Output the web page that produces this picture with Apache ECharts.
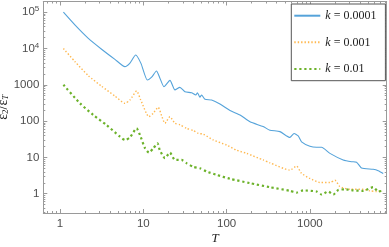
<!DOCTYPE html>
<html><head><meta charset="utf-8">
<script src="https://cdn.jsdelivr.net/npm/echarts@6/dist/echarts.min.js"></script>
<style>html,body{margin:0;padding:0;background:#fff}#c{width:389px;height:247px}</style>
</head><body><div id="c"></div>
<script>
// ---- data ----
const seriesNames = ['k = 0.0001', 'k = 0.001', 'k = 0.01'];

const tBlue = [1.1,1.51,2.19,3.16,4.57,6.03,6.92,8.11,9.38,11.2,12.6,14.4,15.8,17.7,20.9,24.0,27.5,31.6,38.0,42.7,44.7,47.9,50.1,55.0,66.1,83.2,110,145,191,275,331,437,575,646,724,794,1000,1200,1380,1740,2510,3160,3630,4170,5750,6610,7590];
const vBlue = [100000,44700,19000,9550,5010,3160,3980,6600,3890,1350,1620,2400,1550,890,1320,724,851,646,603,525,603,457,525,398,380,295,195,148,95.5,70.8,56.2,51.3,35.5,45.7,38.9,26.9,20.4,19.1,19.1,12.9,8.5,7.6,7.4,5.1,4.7,4.3,3.6];

const tOrange = [1.1,1.51,2.19,3.16,4.57,6.03,6.92,8.32,9.33,11.7,13.2,15.1,16.6,18.2,20.9,24.0,27.5,33.1,39.8,45.7,52.5,69.2,100,132,174,275,331,575,692,794,1000,1320,1740,2000,2290,3020,4370,5250,6310,7410];
const vOrange = [10000,4370,1780,912,490,309,380,676,380,132,166,240,141,87,132,87,79.4,63.1,55,45.7,43.7,30.2,21.9,15.8,12.9,8.5,7.1,4.47,5.75,3.63,2.63,2.04,2.04,2.34,1.58,1.32,1.32,1.20,1.15,1.17];

const tGreen = [1.1,1.74,2.51,3.63,5.25,6.03,6.92,8.32,9.12,10.5,11.7,13.2,14.8,15.8,18.2,20.9,24.0,28.8,33.1,39.8,47.9,57.5,75.9,110,191,331,575,692,832,1200,1380,1660,1910,2190,2630,3310,4370,5750,6610,7410];
const vGreen = [1000,309,148,77.6,37.2,30.2,35.5,63.1,41.7,17.8,13.5,17.8,24.5,15.8,9.55,13.5,8.5,8.5,6.9,5.5,5.0,4.07,3.31,2.57,1.95,1.51,1.20,1.07,1.23,1.15,0.95,1.15,0.95,1.26,1.32,1.23,1.20,1.51,1.15,1.20];

const xTickValues = [1, 10, 100, 1000];
const xTickLabels = ['1', '10', '100', '1000'];
const yTickValues = [1, 10, 100, 1000, 10000, 100000];
const yTickLabels = ['1', '10', '100', '1000', '10^4', '10^5'];

// ---- layout / style ----
const X0 = -0.2, X1 = 3.922, Y0 = -0.532, Y1 = 5.295;   // axis range in decades
const frameColor = '#9a9a9a';
const labelColor = '#4d4d4d';
const sansFont = '"Liberation Sans Narrow", "Liberation Sans", sans-serif';
const serifFont = '"Liberation Serif", serif';

function minorTicks(lo, hi) {
  const out = [];
  for (let n = -2; n <= 6; n++) for (let k = 2; k <= 9; k++) {
    const v = n + Math.log10(k);
    if (v > lo && v < hi) out.push(v);
  }
  return out;
}
const xMajor = xTickValues.map(Math.log10);
const yMajor = yTickValues.map(Math.log10);
const xMinor = minorTicks(X0, X1);
const yMinor = minorTicks(Y0, Y1);

function tickAxis(position, lo, hi, ticks, len, line, labelCfg) {
  return {
    type: 'value', position: position, min: lo, max: hi, gridIndex: 0,
    axisLine: { show: line, onZero: false, lineStyle: { color: frameColor, width: 1 } },
    axisTick: { show: true, inside: true, length: len, customValues: ticks, lineStyle: { color: frameColor, width: 1 } },
    axisLabel: labelCfg ? labelCfg : { show: false },
    splitLine: { show: false }, minorTick: { show: false }, axisPointer: { show: false }
  };
}

const xLabelCfg = {
  show: true, customValues: xMajor, margin: 5, color: labelColor, fontFamily: sansFont, fontSize: 11.5,
  formatter: v => xTickLabels[xMajor.findIndex(m => Math.abs(m - v) < 1e-6)]
};
const yLabelCfg = {
  show: true, customValues: yMajor, margin: 4, color: labelColor, fontFamily: sansFont, fontSize: 11.5,
  formatter: v => {
    const s = yTickLabels[yMajor.findIndex(m => Math.abs(m - v) < 1e-6)];
    const p = s.split('^');
    return p.length > 1 ? p[0] + '{sup|' + p[1] + '}' : s;
  },
  rich: { sup: { fontSize: 8, verticalAlign: 'top', color: labelColor, fontFamily: sansFont, padding: [0, 0, 6, 0] } }
};

const xBottom = tickAxis('bottom', X0, X1, xMajor, 4, true, xLabelCfg);
Object.assign(xBottom, { name: 'T', nameLocation: 'middle', nameGap: 19, nameMoveOverlap: false,
  nameTextStyle: { fontFamily: serifFont, fontStyle: 'italic', fontSize: 13, color: '#222' } });
const yLeft = tickAxis('left', Y0, Y1, yMajor, 4, true, yLabelCfg);
Object.assign(yLeft, { name: '{e|ε̄}{s|2}{e|/ε̄}{t|T}', nameLocation: 'middle', nameGap: 33, nameRotate: 90,
  nameMoveOverlap: false,
  nameTextStyle: { color: '#222', rich: {
    e: { fontFamily: serifFont, fontSize: 14, color: '#222' },
    s: { fontFamily: serifFont, fontSize: 9, color: '#222', verticalAlign: 'bottom' },
    t: { fontFamily: serifFont, fontSize: 9, fontStyle: 'italic', color: '#222', verticalAlign: 'bottom' }
  } } });

const option = {
  animation: false,
  backgroundColor: '#fff',
  grid: { left: 43.3, right: 2.3, top: 1.5, bottom: 34, containLabel: false, outerBoundsMode: 'none' },
  xAxis: [
    { type: 'log', min: Math.pow(10, X0), max: Math.pow(10, X1), show: false, gridIndex: 0, position: 'bottom',
      axisLine: { onZero: false }, splitLine: { show: false } },
    xBottom,
    tickAxis('bottom', X0, X1, xMinor, 2, false),
    tickAxis('top', X0, X1, xMajor, 4, true),
    tickAxis('top', X0, X1, xMinor, 2, false)
  ],
  yAxis: [
    { type: 'log', min: Math.pow(10, Y0), max: Math.pow(10, Y1), show: false, gridIndex: 0, position: 'left',
      axisLine: { onZero: false }, splitLine: { show: false } },
    yLeft,
    tickAxis('left', Y0, Y1, yMinor, 2, false),
    tickAxis('right', Y0, Y1, yMajor, 4, true),
    tickAxis('right', Y0, Y1, yMinor, 2, false)
  ],
  legend: {
    data: seriesNames, orient: 'vertical', left: 291.3, top: 4,
    padding: [4.7, 9, 4.7, 2], itemGap: 12.65, itemWidth: 26, itemHeight: 14,
    backgroundColor: '#fff', borderColor: '#555', borderWidth: 1, borderRadius: 0,
    itemStyle: { opacity: 0 },
    textStyle: { fontFamily: serifFont, fontSize: 12, color: '#222', lineHeight: 14,
      rich: { i: { fontFamily: serifFont, fontStyle: 'italic', fontSize: 12, color: '#222' } } },
    formatter: n => '{i|k}' + n.slice(1)
  },
  series: [
    { name: seriesNames[0], type: 'line', xAxisIndex: 0, yAxisIndex: 0, symbol: 'none', smooth: 0.2,
      data: tBlue.map((t, i) => [t, vBlue[i]]),
      itemStyle: { color: '#55a3da' }, lineStyle: { color: '#55a3da', width: 1.1, type: 'solid' } },
    { name: seriesNames[1], type: 'line', xAxisIndex: 0, yAxisIndex: 0, symbol: 'none', smooth: 0.2,
      data: tOrange.map((t, i) => [t, vOrange[i]]),
      itemStyle: { color: '#ffb84f' }, lineStyle: { color: '#ffb84f', width: 1.4, type: [1.4, 2.0] } },
    { name: seriesNames[2], type: 'line', xAxisIndex: 0, yAxisIndex: 0, symbol: 'none', smooth: 0.2,
      data: tGreen.map((t, i) => [t, vGreen[i]]),
      itemStyle: { color: '#6cb22a' }, lineStyle: { color: '#6cb22a', width: 2.2, type: [2.2, 2.8] } }
  ]
};
const chart = echarts.init(document.getElementById('c'), null, { renderer: 'canvas' });
chart.setOption(option);
</script>
</body></html>
